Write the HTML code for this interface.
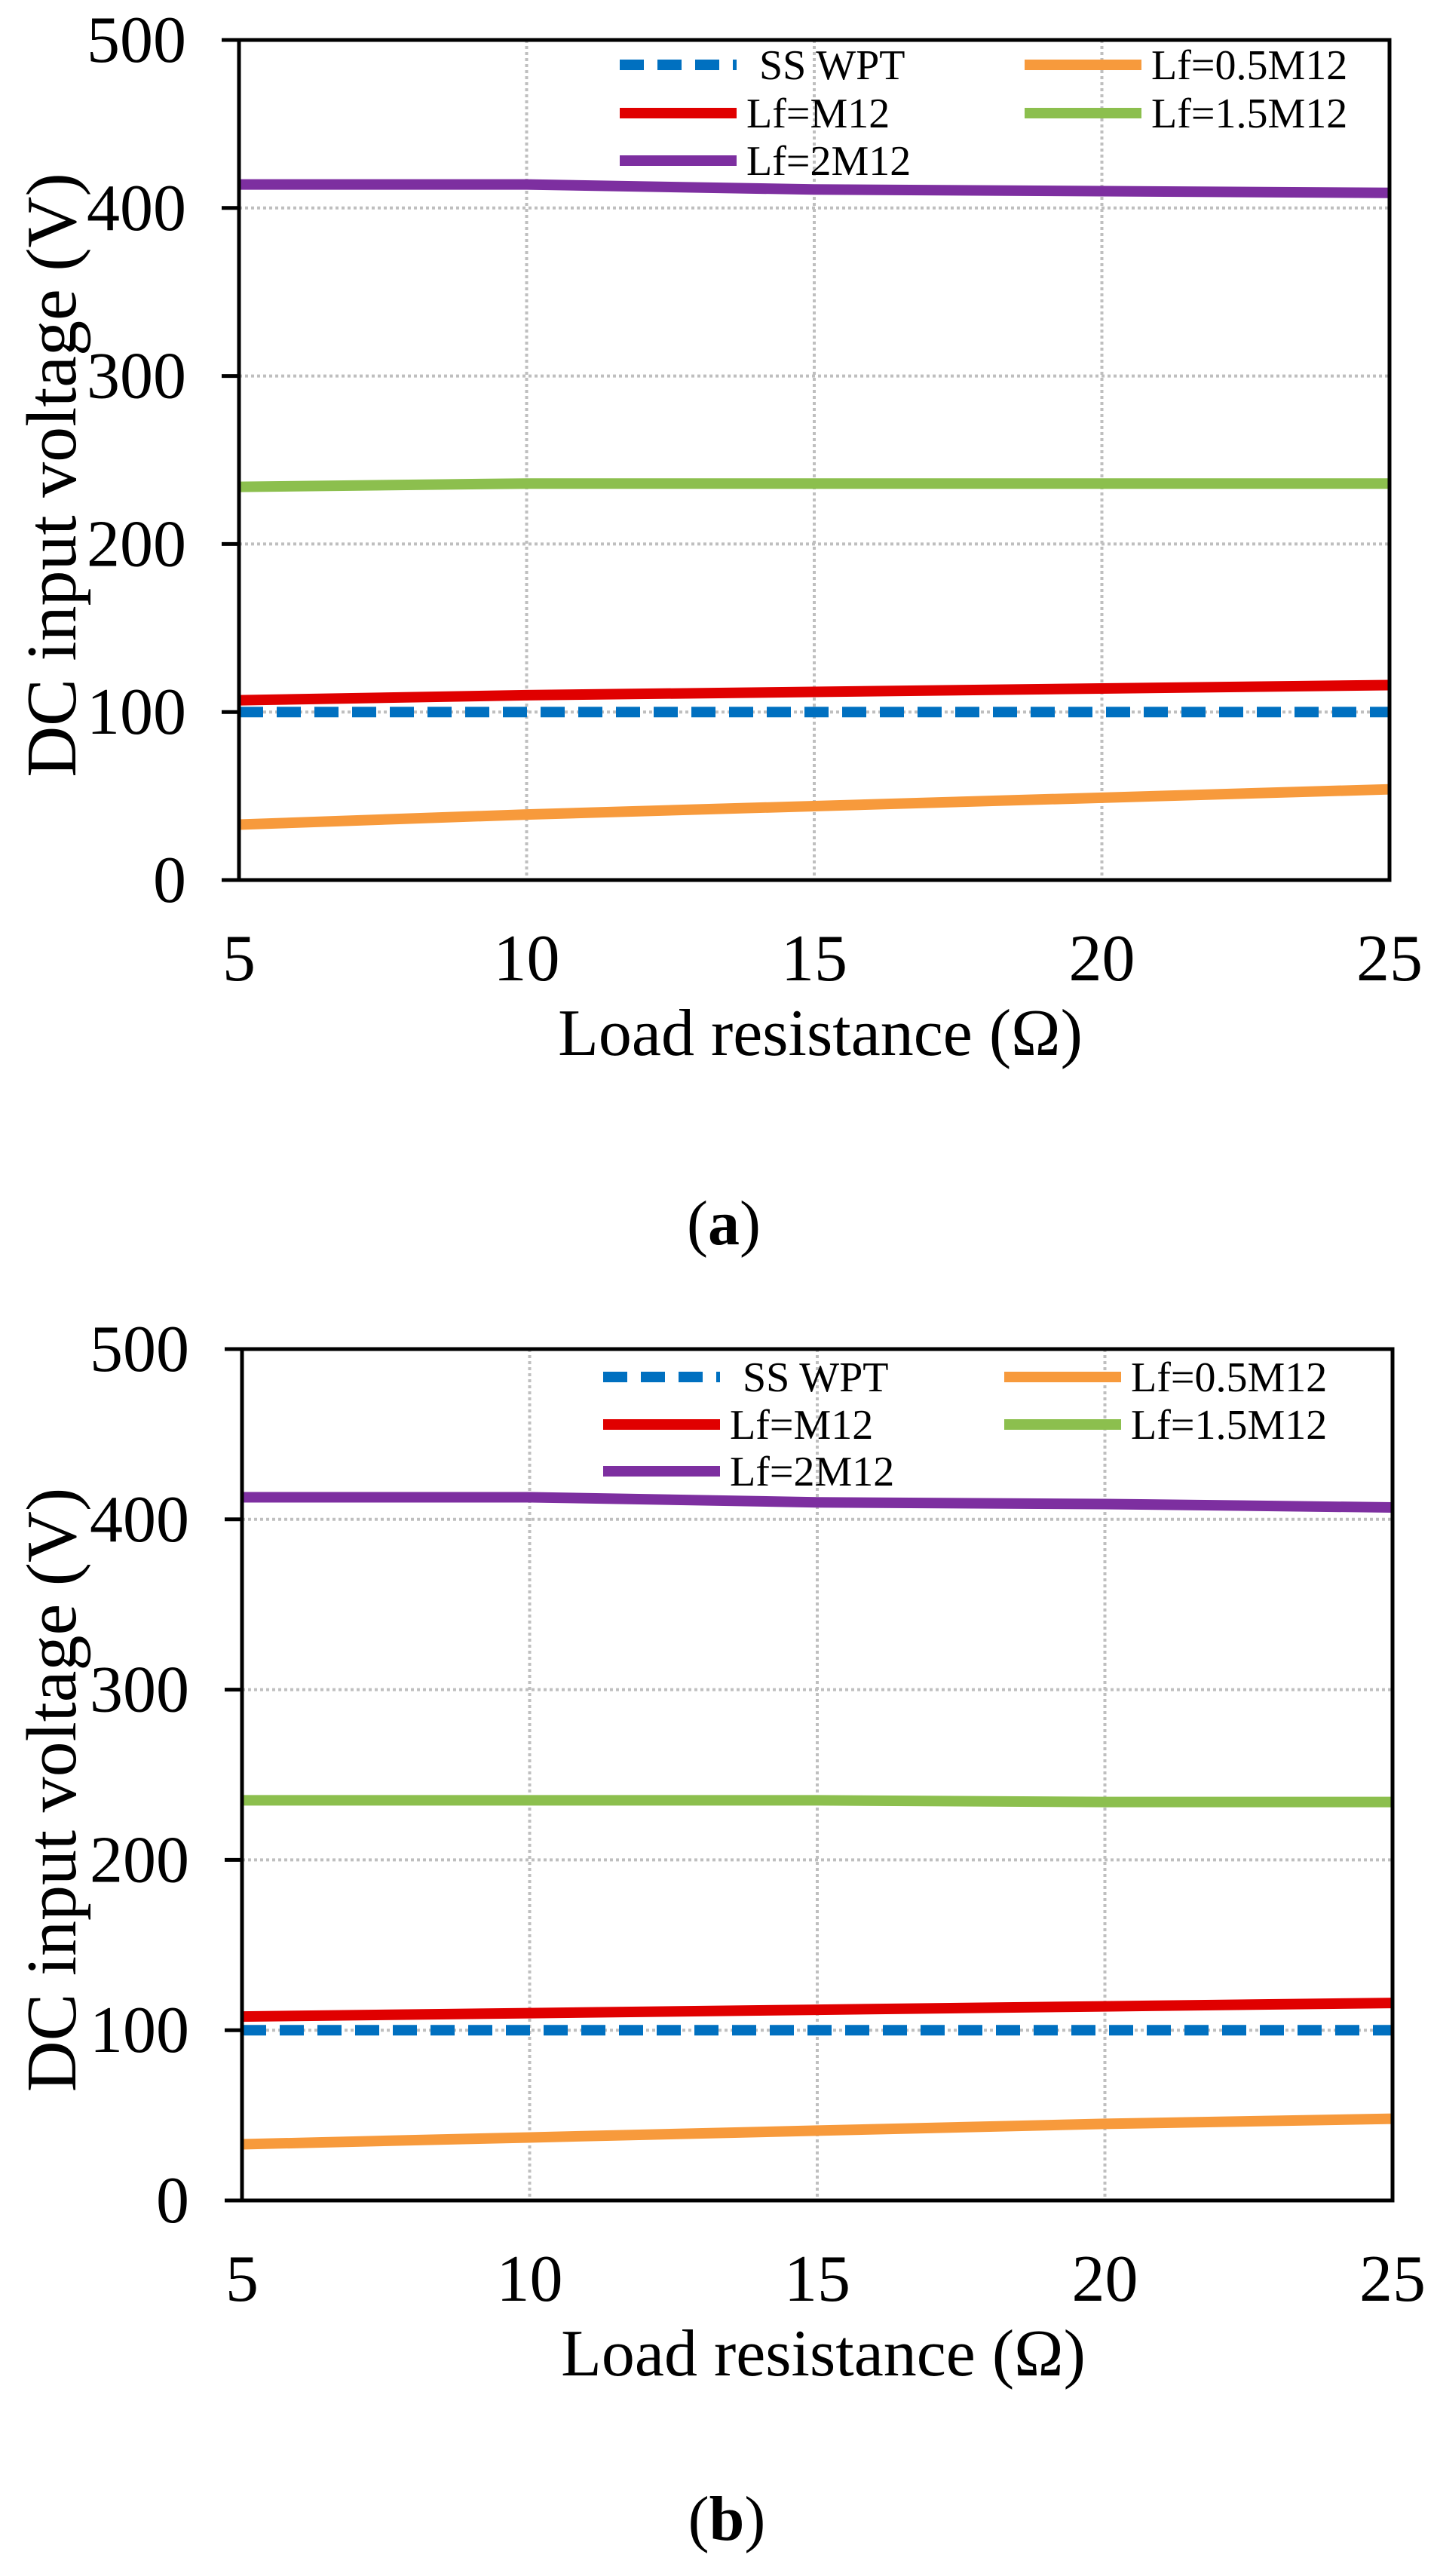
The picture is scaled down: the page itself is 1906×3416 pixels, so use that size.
<!DOCTYPE html>
<html><head><meta charset="utf-8"><style>
html,body{margin:0;padding:0;background:#fff;}
svg{display:block;font-family:"Liberation Serif",serif;}
</style></head><body>
<svg id="svg" width="1906" height="3416" viewBox="0 0 1906 3416" xmlns="http://www.w3.org/2000/svg"></svg>
<script>
const xTicks = [5, 10, 15, 20, 25];
const yTicks = [0, 100, 200, 300, 400, 500];
const seriesNames = ["SS WPT", "Lf=0.5M12", "Lf=M12", "Lf=1.5M12", "Lf=2M12"];
const seriesColors = ["#0070c0", "#f79a3c", "#e00000", "#8cbf4e", "#7d2fa0"];
const aSS = [100, 100, 100, 100, 100];
const aHalf = [33, 39, 44, 49, 54];
const aOne = [107, 110, 112, 114, 116];
const aOneHalf = [234, 236, 236, 236, 236];
const aTwo = [414, 414, 411, 410, 409];
const bSS = [100, 100, 100, 100, 100];
const bHalf = [33, 37, 41, 45, 48];
const bOne = [108, 110, 112, 114, 116];
const bOneHalf = [235, 235, 235, 234, 234];
const bTwo = [413, 413, 410, 409, 407];

const NS = "http://www.w3.org/2000/svg";
const svg = document.getElementById("svg");
function mk(tag, attrs, parent) {
  const e = document.createElementNS(NS, tag);
  for (const k in attrs) e.setAttribute(k, attrs[k]);
  (parent || svg).appendChild(e);
  return e;
}

function chart(cfg) {
  const g = mk("g", {});
  
  
  const {L, R, T, B} = cfg;
  const xs = v => L + (v - 5) / 20 * (R - L);
  const ys = v => B - v / 500 * (B - T);
  xTicks.slice(1, -1).forEach(v => {
    const l = mk("line", {x1: xs(v), x2: xs(v), y1: T, y2: B, stroke: "#bfbfbf", "stroke-width": 4, "stroke-dasharray": "4 4"}, g);
    
    
  });
  yTicks.slice(1, -1).forEach(v => {
    const l = mk("line", {x1: L, x2: R, y1: ys(v), y2: ys(v), stroke: "#bfbfbf", "stroke-width": 4, "stroke-dasharray": "4 4"}, g);
    
    
  });
  cfg.series.forEach((arr, i) => {
    const pts = arr.map((v, j) => xs(xTicks[j]) + "," + ys(v)).join(" ");
    const p = mk("polyline", {points: pts, fill: "none", stroke: seriesColors[i], "stroke-width": 14, "stroke-dasharray": i === 0 ? "32 18" : "none"}, g);
    
    
  });
  const fr = mk("rect", {x: L, y: T, width: R - L, height: B - T, fill: "none", stroke: "#000", "stroke-width": 5}, g);
  
  
  yTicks.forEach(v => {
    const t = mk("line", {x1: L - 23, x2: L, y1: ys(v), y2: ys(v), stroke: "#000", "stroke-width": 5}, g);
    
    
    const tx = mk("text", {x: L - 70, y: ys(v) + 29, "font-size": 88, "text-anchor": "end"}, g);
    tx.textContent = v;
    
    
  });
  xTicks.forEach(v => {
    const tx = mk("text", {x: xs(v), y: B + 133, "font-size": 88, "text-anchor": "middle"}, g);
    tx.textContent = v;
    
    
  });
  const xt = mk("text", {x: (L + R) / 2 + 8, y: B + 232, "font-size": 88, "text-anchor": "middle"}, g);
  xt.textContent = "Load resistance (Ω)";
  
  
  const cy = (T + B) / 2 + 20;
  const yt = mk("text", {x: 0, y: 0, "font-size": 94, "text-anchor": "middle", transform: `translate(100,${cy}) rotate(-90)`}, g);
  yt.textContent = "DC input voltage (V)";
  
  
  const lg = mk("g", {}, g);
  
  
  const pos = [[0, 0], [1, 0], [0, 1], [1, 1], [0, 2]];
  seriesNames.forEach((n, i) => {
    const lx = pos[i][0] ? cfg.c2 : cfg.c1;
    const ly = cfg.rows[pos[i][1]];
    const ln = mk("line", {x1: lx, x2: lx + 155, y1: ly, y2: ly, stroke: seriesColors[i], "stroke-width": 14, "stroke-dasharray": i === 0 ? "32 18" : "none"}, lg);
    
    
    const t = mk("text", {x: lx + (i === 0 ? 185 : 168), y: ly + 19, "font-size": 56}, lg);
    t.textContent = n;
    
    
  });
  const cap = mk("text", {x: (L + R) / 2 - 120, y: cfg.capY, "font-size": 84, "text-anchor": "middle"}, g);
  cap.innerHTML = '(<tspan font-weight="bold">' + cfg.cap + '</tspan>)';
  
  
}

chart({name: "chart-a", L: 317, R: 1843, T: 53, B: 1167, series: [aSS, aHalf, aOne, aOneHalf, aTwo],
  c1: 822, c2: 1359, rows: [86, 150, 213], cap: "a", capY: 1650});
chart({name: "chart-b", L: 321, R: 1847, T: 1789, B: 2918, series: [bSS, bHalf, bOne, bOneHalf, bTwo],
  c1: 800, c2: 1332, rows: [1826, 1889, 1951], cap: "b", capY: 3368});
</script>
</body></html>
